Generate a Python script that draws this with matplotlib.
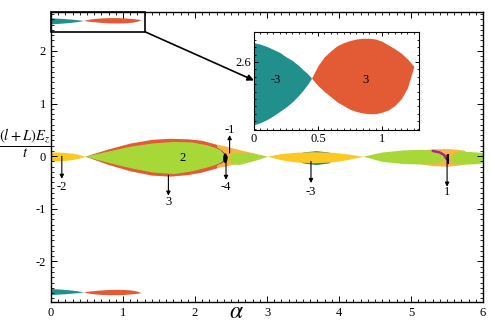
import matplotlib
matplotlib.use("Agg")
import matplotlib.pyplot as plt
from matplotlib.patches import Rectangle, Ellipse
from matplotlib.ticker import MultipleLocator, FormatStrFormatter, FuncFormatter

plt.rcParams.update({
    "font.family": "serif",
    "font.serif": ["Liberation Serif", "DejaVu Serif"],
    "mathtext.fontset": "stix",
    "axes.unicode_minus": False,
    "xtick.direction": "in",
    "ytick.direction": "in",
    "xtick.top": True,
    "ytick.right": True,
})

TEAL = "#21908c"
RED = "#e35b35"
GREEN = "#a8d838"
GOLD = "#fdc820"
LORANGE = "#f8b445"
PURPLE = "#a8288a"

# --- top / bottom lobes (also shown in the inset) ---
teal_x = [0, 0.05, 0.1, 0.15, 0.2, 0.25, 0.3, 0.35, 0.38, 0.42, 0.45]
teal_top = [2.626, 2.624, 2.621, 2.617, 2.613, 2.607, 2.602, 2.595, 2.590, 2.584, 2.578]
teal_bot = [2.515, 2.518, 2.522, 2.527, 2.533, 2.539, 2.546, 2.555, 2.561, 2.570, 2.578]
red_x = [0.45, 0.5, 0.55, 0.6, 0.65, 0.7, 0.75, 0.8, 0.85, 0.9, 0.95, 1.0, 1.05,
         1.1, 1.15, 1.2, 1.25]
red_top = [2.578, 2.595, 2.607, 2.615, 2.622, 2.626, 2.629, 2.631, 2.632, 2.632,
           2.631, 2.628, 2.623, 2.618, 2.612, 2.604, 2.594]
red_bot = [2.578, 2.568, 2.560, 2.553, 2.546, 2.541, 2.536, 2.533, 2.531, 2.530,
           2.530, 2.532, 2.535, 2.541, 2.550, 2.565, 2.594]

# --- central band around zero ---
ya_x = [0, 0.1, 0.2, 0.3, 0.38, 0.44, 0.47]
ya_top = [0.08, 0.078, 0.07, 0.055, 0.035, 0.012, 0]
ya_bot = [-0.09, -0.088, -0.08, -0.062, -0.04, -0.014, 0]

rl_x = [0.47, 0.8, 1.1, 1.4, 1.65, 1.9, 2.1, 2.3]
rl_top = [0, 0.14, 0.25, 0.32, 0.34, 0.33, 0.3, 0.22]
rl_bot = [0, -0.16, -0.28, -0.36, -0.38, -0.35, -0.3, -0.22]

ow_x = [2.0, 2.2, 2.4, 2.6, 2.8, 3.0]
ow_top = [0.31, 0.26, 0.2, 0.13, 0.065, 0]
ow_bot = [-0.31, -0.25, -0.19, -0.13, -0.065, 0]

pa_x = [2.22, 2.3, 2.36, 2.41, 2.45]
pa_top = [0.2, 0.17, 0.12, 0.06, 0.0]
pa_bot = [-0.18, -0.16, -0.13, -0.08, -0.03]

ga_x = [0.47, 0.8, 1.1, 1.4, 1.7, 1.95, 2.15, 2.28, 2.35, 2.39, 2.41]
ga_top = [0, 0.1, 0.19, 0.25, 0.28, 0.27, 0.22, 0.17, 0.12, 0.06, 0]
ga_bot = [0, -0.12, -0.22, -0.3, -0.33, -0.28, -0.21, -0.16, -0.12, -0.07, -0.02]

gb_x = [2.47, 2.5, 2.6, 2.75, 2.9, 3.0]
gb_top = [-0.04, 0.05, 0.08, 0.06, 0.03, 0]
gb_bot = [-0.06, -0.14, -0.16, -0.11, -0.05, 0]

tl_x = [3.35, 3.5, 3.68, 3.85, 4.0]
tl_top = [-0.02, 0.08, 0.105, 0.08, -0.02]
tl_bot = [-0.02, -0.13, -0.16, -0.13, -0.02]

gl_x = [3.0, 3.2, 3.4, 3.65, 3.9, 4.1, 4.33]
gl_top = [0, 0.05, 0.075, 0.085, 0.075, 0.045, 0]
gl_bot = [0, -0.07, -0.11, -0.125, -0.11, -0.07, 0]

oc_x = [5.15, 5.3, 5.5, 5.65, 5.75]
oc_top = [0.12, 0.14, 0.145, 0.13, 0.11]
oc_bot = [-0.15, -0.18, -0.19, -0.17, -0.15]

gc1_x = [4.33, 4.6, 4.9, 5.15, 5.3, 5.42, 5.48]
gc1_top = [0, 0.08, 0.12, 0.13, 0.11, 0.07, 0.02]
gc1_bot = [0, -0.1, -0.14, -0.15, -0.14, -0.1, -0.05]

gc2_x = [5.55, 5.58, 5.65, 5.8, 6.0]
gc2_top = [-0.02, 0.06, 0.09, 0.09, 0.07]
gc2_bot = [-0.06, -0.12, -0.15, -0.15, -0.13]

pc_x = [5.3, 5.4, 5.46, 5.49]
pc_y = [0.1, 0.07, 0.02, -0.05]

blob = (2.42, -0.04, 0.06, 0.18)      # x, y, width, height
bar = (5.51, 0.05, -0.14)             # x, y0, y1

# arrows: x, start, end, label, label y
arr_x = [0.15, 1.63, 2.48, 2.43, 3.61, 5.5]
arr_y0 = [0.0, -0.36, 0.06, -0.02, -0.1, 0.02]
arr_y1 = [-0.43, -0.75, 0.4, -0.45, -0.51, -0.58]
arr_lab = ["-2", "3", "-1", "-4", "-3", "1"]
arr_laby = [-0.58, -0.87, 0.49, -0.58, -0.68, -0.68]

fig = plt.figure(figsize=(4.91, 3.27), dpi=100)
ax = fig.add_axes([0.1039, 0.0765, 0.880, 0.887])


def lobes(a, sign=1):
    a.fill_between(teal_x, [sign * v for v in teal_top], [sign * v for v in teal_bot],
                   color=TEAL, lw=0)
    a.fill_between(red_x, [sign * v for v in red_top], [sign * v for v in red_bot],
                   color=RED, lw=0)


lobes(ax, 1)
lobes(ax, -1)

ax.fill_between(ya_x, ya_top, ya_bot, color=GOLD, lw=0)
ax.fill_between(ow_x, ow_top, ow_bot, color=LORANGE, lw=0)
ax.fill_between(rl_x, rl_top, rl_bot, color=RED, lw=0)
ax.fill_between(pa_x, pa_top, pa_bot, color=PURPLE, lw=0)
ax.fill_between(ga_x, ga_top, ga_bot, color=GREEN, lw=0)
ax.fill_between(gb_x, gb_top, gb_bot, color=GREEN, lw=0)
ax.fill_between(tl_x, tl_top, tl_bot, color=TEAL, lw=0)
ax.fill_between(gl_x, gl_top, gl_bot, color=GOLD, lw=0)
ax.fill_between(oc_x, oc_top, oc_bot, color=LORANGE, lw=0)
ax.fill_between(gc1_x, gc1_top, gc1_bot, color=GREEN, lw=0)
ax.fill_between(gc2_x, gc2_top, gc2_bot, color=GREEN, lw=0)
ax.plot(pc_x, pc_y, color=PURPLE, lw=1.8, solid_capstyle="round")
ax.add_patch(Ellipse(blob[:2], blob[2], blob[3], color="k", lw=0))
ax.vlines(bar[0], bar[2], bar[1], color="k", lw=1.5)

for x, y0, y1, lab, ly in zip(arr_x, arr_y0, arr_y1, arr_lab, arr_laby):
    ax.annotate("", xy=(x, y1), xytext=(x, y0),
                arrowprops=dict(arrowstyle="-|>", color="k", lw=0.8,
                                mutation_scale=6, shrinkA=0, shrinkB=0))
    ax.text(x, ly, lab, ha="center", va="center", fontsize=9)
ax.text(1.83, -0.04, "2", ha="center", va="center", fontsize=9)

ax.set_xlim(0, 6)
ax.set_ylim(-2.77, 2.74)
ax.xaxis.set_major_locator(MultipleLocator(1))
ax.xaxis.set_minor_locator(MultipleLocator(0.1))
ax.yaxis.set_major_locator(MultipleLocator(1))
ax.yaxis.set_minor_locator(MultipleLocator(0.1))
ax.tick_params(which="major", length=4, width=0.7, labelsize=9)
ax.tick_params(which="minor", length=2, width=0.6)
for s in ax.spines.values():
    s.set_linewidth(1.0)

# zoom box
ax.add_patch(Rectangle((0, 2.36), 1.31, 2.74 - 2.36, fill=False, ec="k", lw=1.2,
                       clip_on=False, zorder=5))

# inset
axin = fig.add_axes([254 / 491, (327 - 130) / 327, 165 / 491, 98 / 327])
lobes(axin, 1)
axin.set_xlim(0, 1.29)
axin.set_ylim(2.508, 2.6405)
axin.text(0.17, 2.575, "-3", ha="center", va="center", fontsize=9)
axin.text(0.87, 2.575, "3", ha="center", va="center", fontsize=9)
axin.xaxis.set_major_locator(MultipleLocator(0.5))
axin.xaxis.set_minor_locator(MultipleLocator(0.05))
axin.yaxis.set_major_locator(MultipleLocator(0.1))
axin.yaxis.set_minor_locator(MultipleLocator(0.01))
axin.yaxis.set_major_formatter(FormatStrFormatter("%.1f"))
axin.xaxis.set_major_formatter(FuncFormatter(lambda v, p: f"{v:g}"))
axin.tick_params(which="major", length=3, width=0.7, labelsize=9, pad=2)
axin.tick_params(which="minor", length=1.5, width=0.6)

axin.annotate("", xy=(0, 2.575), xycoords=axin.transData,
              xytext=(1.31, 2.36), textcoords=ax.transData,
              arrowprops=dict(arrowstyle="-|>", color="k", lw=1.2,
                              mutation_scale=9, shrinkA=0, shrinkB=0),
              annotation_clip=False)

fig.text(25 / 491, 1 - 143 / 327, r"$\dfrac{(l+L)E_z}{t}$", ha="center", va="center",
         fontsize=10.5)
fig.text(236 / 491, 1 - 313 / 327, r"$\alpha$", ha="center", va="center", fontsize=17)

fig.savefig("out.png", dpi=100)
